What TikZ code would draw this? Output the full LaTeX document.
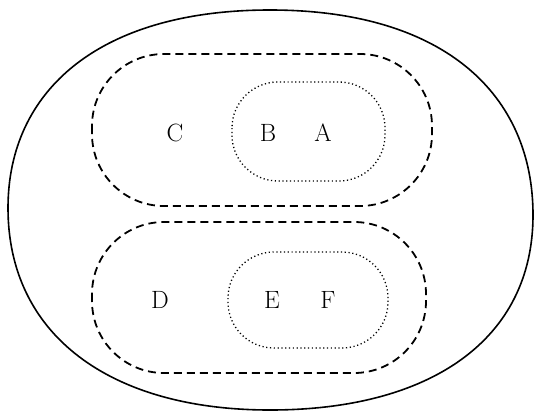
\documentclass[tikz,border=0pt]{standalone}
\begin{document}
\begin{tikzpicture}[x=1pt,y=-1pt,
  outerline/.style={line width=1.6pt},
  groupbox/.style={draw, line width=1.8pt, dash pattern=on 8pt off 5pt, rounded corners=72pt},
  subbox/.style={draw, line width=1.3pt, dash pattern=on 1.2pt off 2.6pt, rounded corners=46pt},
  lbl/.style={font=\fontsize{25}{25}\selectfont, inner sep=0pt}]
\useasboundingbox (0,0) rectangle (534,415);
\draw[outerline] (270,10) .. controls (445,10) and (533,95) .. (533,215)
  .. controls (533,340) and (430,410) .. (270,410)
  .. controls (110,410) and (8,335) .. (8,208)
  .. controls (8,90) and (100,10) .. (270,10) -- cycle;
\draw[groupbox] (92,54) rectangle (432,206);
\draw[groupbox] (92,222) rectangle (426,373);
\draw[subbox] (232,82) rectangle (385,181);
\draw[subbox] (228,252) rectangle (388,348);
\node[lbl] (C) at (175,133) {C};
\node[lbl] (B) at (268,133) {B};
\node[lbl] (A) at (323,133) {A};
\node[lbl] (D) at (160,300) {D};
\node[lbl] (E) at (272,300) {E};
\node[lbl] (F) at (328,300) {F};
\end{tikzpicture}
\end{document}
